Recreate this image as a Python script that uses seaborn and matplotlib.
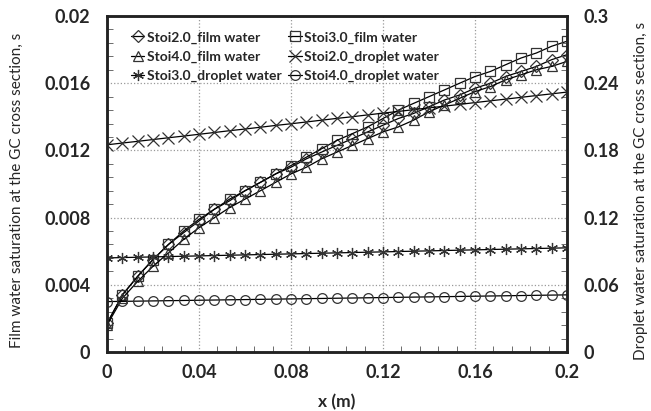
import numpy as np
import pandas as pd
import matplotlib
matplotlib.use('Agg')
import matplotlib.pyplot as plt
import seaborn as sns
from matplotlib.ticker import AutoMinorLocator

# data (31 points along the channel)
x_m = [0.0, 0.0067, 0.0133, 0.02, 0.0267, 0.0333, 0.04, 0.0467, 0.0533, 0.06,
       0.0667, 0.0733, 0.08, 0.0867, 0.0933, 0.1, 0.1067, 0.1133, 0.12, 0.1267,
       0.1333, 0.14, 0.1467, 0.1533, 0.16, 0.1667, 0.1733, 0.18, 0.1867, 0.1933, 0.2]

film_stoi2 = [0.0017, 0.0034, 0.0045, 0.0055, 0.0064, 0.0071, 0.0078, 0.0085, 0.0090, 0.0096,
              0.0101, 0.0106, 0.0110, 0.0115, 0.0119, 0.0123, 0.0127, 0.0131, 0.0135, 0.0139,
              0.0142, 0.0146, 0.0150, 0.0153, 0.0157, 0.0160, 0.0164, 0.0167, 0.0170, 0.0174, 0.0177]
film_stoi3 = [0.0017, 0.0034, 0.0045, 0.0055, 0.0064, 0.0072, 0.0079, 0.0085, 0.0091, 0.0096,
              0.0101, 0.0106, 0.0111, 0.0116, 0.0121, 0.0126, 0.0130, 0.0134, 0.0139, 0.0144,
              0.0148, 0.0152, 0.0156, 0.0160, 0.0164, 0.0167, 0.0171, 0.0175, 0.0178, 0.0182, 0.0185]
film_stoi4 = [0.0016, 0.0032, 0.0042, 0.0051, 0.0059, 0.0067, 0.0074, 0.0080, 0.0086, 0.0091,
              0.0096, 0.0101, 0.0106, 0.0110, 0.0115, 0.0119, 0.0123, 0.0127, 0.0131, 0.0134,
              0.0138, 0.0143, 0.0147, 0.0151, 0.0155, 0.0158, 0.0162, 0.0165, 0.0168, 0.0170, 0.0173]

drop_stoi2 = [0.185, 0.1866, 0.1881, 0.1897, 0.1913, 0.1928, 0.1944, 0.196, 0.1976, 0.1991,
              0.2007, 0.2023, 0.2038, 0.2054, 0.207, 0.2086, 0.2101, 0.2117, 0.2133, 0.2148,
              0.2164, 0.218, 0.2195, 0.2211, 0.2227, 0.2243, 0.2258, 0.2274, 0.229, 0.2305, 0.2321]
drop_stoi3 = [0.084, 0.0843, 0.0846, 0.0849, 0.0852, 0.0855, 0.0858, 0.0861, 0.0864, 0.0867,
              0.087, 0.0873, 0.0876, 0.0879, 0.0882, 0.0885, 0.0888, 0.0891, 0.0894, 0.0897,
              0.09, 0.0903, 0.0906, 0.0909, 0.0912, 0.0915, 0.0918, 0.0921, 0.0924, 0.0927, 0.093]
drop_stoi4 = [0.045, 0.0452, 0.0454, 0.0456, 0.0458, 0.046, 0.0462, 0.0464, 0.0466, 0.0468,
              0.047, 0.0472, 0.0474, 0.0476, 0.0478, 0.048, 0.0482, 0.0484, 0.0486, 0.0488,
              0.049, 0.0492, 0.0494, 0.0496, 0.0498, 0.05, 0.0502, 0.0504, 0.0506, 0.0508, 0.051]

x_ticks = [0, 0.04, 0.08, 0.12, 0.16, 0.2]
x_ticklabels = ['0', '0.04', '0.08', '0.12', '0.16', '0.2']
film_ticks = [0, 0.004, 0.008, 0.012, 0.016, 0.02]
film_ticklabels = ['0', '0.004', '0.008', '0.012', '0.016', '0.02']
drop_ticks = [0, 0.06, 0.12, 0.18, 0.24, 0.3]
drop_ticklabels = ['0', '0.06', '0.12', '0.18', '0.24', '0.3']

sns.set_style('white')
plt.rcParams['font.family'] = ['Lato', 'DejaVu Sans']

fig, ax = plt.subplots(figsize=(6.51, 4.11), dpi=100)
fig.subplots_adjust(left=0.1644, right=0.871, bottom=0.1436, top=0.961)
ax2 = ax.twinx()

asterisk = (6, 2, 0)
mk = dict(color='black', lw=0.9, mfc='none', mec='#333333', mew=0.9)

film = [('Stoi2.0_film water', film_stoi2, 'D', 6),
        ('Stoi3.0_film water', film_stoi3, 's', 7),
        ('Stoi4.0_film water', film_stoi4, '^', 7)]
drop = [('Stoi2.0_droplet water', drop_stoi2, 'x', 8),
        ('Stoi3.0_droplet water', drop_stoi3, asterisk, 8),
        ('Stoi4.0_droplet water', drop_stoi4, 'o', 7)]

handles = {}
for name, vals, m, s in film:
    sns.lineplot(x=x_m, y=vals, ax=ax, marker=m, label=name, legend=False, ms=s, **mk)
    handles[name] = ax.lines[-1]
for name, vals, m, s in drop:
    sns.lineplot(x=x_m, y=vals, ax=ax2, marker=m, label=name, legend=False, ms=s, **mk)
    handles[name] = ax2.lines[-1]

ax.set_xticks(x_ticks, x_ticklabels)
ax.set_yticks(film_ticks, film_ticklabels)
ax2.set_yticks(drop_ticks, drop_ticklabels)
ax.set_xlim(0, 0.2)
ax.set_ylim(0, 0.02)
ax2.set_ylim(0, 0.3)
ax.xaxis.set_minor_locator(AutoMinorLocator(5))
ax.yaxis.set_minor_locator(AutoMinorLocator(5))
ax2.yaxis.set_minor_locator(AutoMinorLocator(5))

for a in (ax, ax2):
    a.tick_params(which='both', direction='in', color='#555555')
    a.tick_params(which='major', length=0, labelsize=13)
    a.tick_params(which='minor', length=4, width=0.6)
    for t in a.get_xticklabels() + a.get_yticklabels():
        t.set_fontweight('bold')
ax.tick_params(axis='y', which='both', left=True, right=False, pad=12)
ax.tick_params(axis='x', which='both', bottom=True, top=False, pad=9)
ax2.tick_params(axis='y', which='both', right=True, left=False, pad=12)
ax2.grid(False)

ax.grid(True, which='major', ls=':', color='#999999', lw=0.9)
for a in (ax, ax2):
    for sp in a.spines.values():
        sp.set_color('#222222')
        sp.set_linewidth(1.8)

ax.set_xlabel('x (m)', fontsize=12.5, fontweight='bold')
ax.xaxis.set_label_coords(0.5, -0.125)
ax.set_ylabel('Film water saturation at the GC cross section, s', fontsize=11)
ax.yaxis.set_label_coords(-0.18, 0.48)
ax2.set_ylabel('Droplet water saturation at the GC cross section, s', fontsize=11)
ax2.yaxis.set_label_coords(1.145, 0.48)

order = ['Stoi2.0_film water', 'Stoi4.0_film water', 'Stoi3.0_droplet water',
         'Stoi3.0_film water', 'Stoi2.0_droplet water', 'Stoi4.0_droplet water']
leg = ax2.legend([handles[n] for n in order], order, loc='upper left',
                 bbox_to_anchor=(0.018, 1.0), ncol=2,
                 frameon=False, handlelength=1.0, handletextpad=0.15,
                 columnspacing=0.5, labelspacing=0.52, borderaxespad=0.7,
                 prop={'size': 10, 'weight': 'bold'})

plt.savefig('out.png', dpi=100)
